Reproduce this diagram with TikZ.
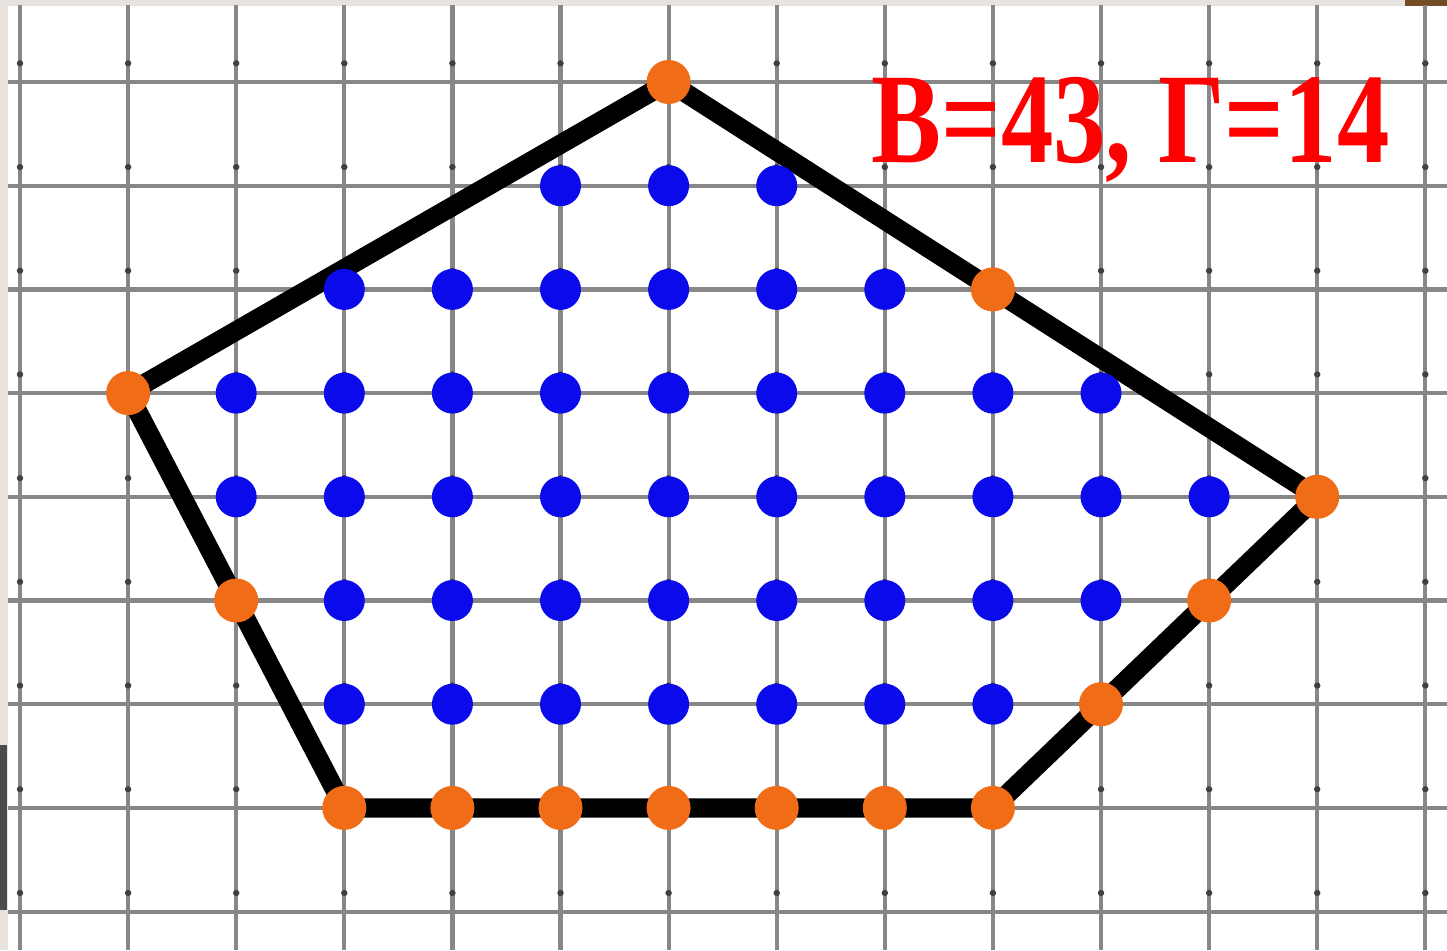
\documentclass[tikz,border=0pt]{standalone}
\usepackage{fontspec}
\newfontfamily\labelfont{Liberation Serif}
\usepackage{tikz}
\usetikzlibrary{positioning}
\definecolor{paperedge}{RGB}{232,227,222}
\definecolor{gridgray}{RGB}{135,135,135}
\definecolor{innerblue}{RGB}{10,10,235}
\definecolor{bordorange}{RGB}{240,108,22}
\tikzset{
  gridline/.style={gridgray,line width=1.2pt},
  gridtick/.style={black!75},
  inpt/.style={circle,fill=innerblue,inner sep=0pt,minimum size=0.41cm},
  bdpt/.style={circle,fill=bordorange,inner sep=0pt,minimum size=0.44cm},
  polyedge/.style={line width=5.5pt,line join=miter,black}
}

\begin{document}
\begin{tikzpicture}
  \useasboundingbox (0,0) rectangle (14.47,-9.50);
  \fill[white] (0,0) rectangle (14.47,-9.50);
  % edge of the sheet
  \fill[paperedge] (0,0) rectangle (14.47,-0.06);
  \fill[paperedge] (0,0) rectangle (0.08,-9.50);
  \fill[black!70] (0,-7.45) rectangle (0.07,-9.10);
  \fill[brown!60!black] (14.05,0) rectangle (14.47,-0.06);
  \begin{scope}[shift={(0.20,-0.82)},x=1.081cm,y=-1.037cm]
    % the squared paper
    \foreach \i in {0,...,13} {
      \draw[gridline] (\i,-0.74) -- (\i,8.37);
    }
    \foreach \j in {0,...,8} {
      \draw[gridline] (-0.11,\j) -- (13.2,\j);
    }
    \foreach \i in {0,...,13} {
      \foreach \j in {0,...,8} {
        \fill[gridtick] (\i,\j-0.18) circle (0.03);
      }
    }
    % corners of the polygon
    \coordinate (top) at (6,0);
    \coordinate (right) at (12,4);
    \coordinate (lowright) at (9,7);
    \coordinate (lowleft) at (3,7);
    \coordinate (left) at (1,3);
    \draw[polyedge] (top) -- (right) -- (lowright) -- (lowleft) -- (left) -- cycle;
    % inner lattice points
    \foreach \r/\a/\b in {1/5/7,2/3/8,3/2/10,4/2/11,5/3/10,6/3/9} {
      \foreach \c in {\a,...,\b} {
        \node[inpt] (in-\c-\r) at (\c,\r) {};
      }
    }
    % lattice points on the boundary
    \foreach \c/\r in {6/0,9/2,12/4,11/5,10/6,9/7,8/7,7/7,6/7,5/7,4/7,3/7,2/5,1/3} {
      \node[bdpt] (bd-\c-\r) at (\c,\r) {};
    }
    % the counts
    \node[anchor=base west,inner sep=0pt,xscale=0.815,text=red,
      font=\labelfont\bfseries\fontsize{36.6}{40}\selectfont] (counts) at (7.87,0.78) {В=43, Г=14};
  \end{scope}
\end{tikzpicture}
\end{document}
